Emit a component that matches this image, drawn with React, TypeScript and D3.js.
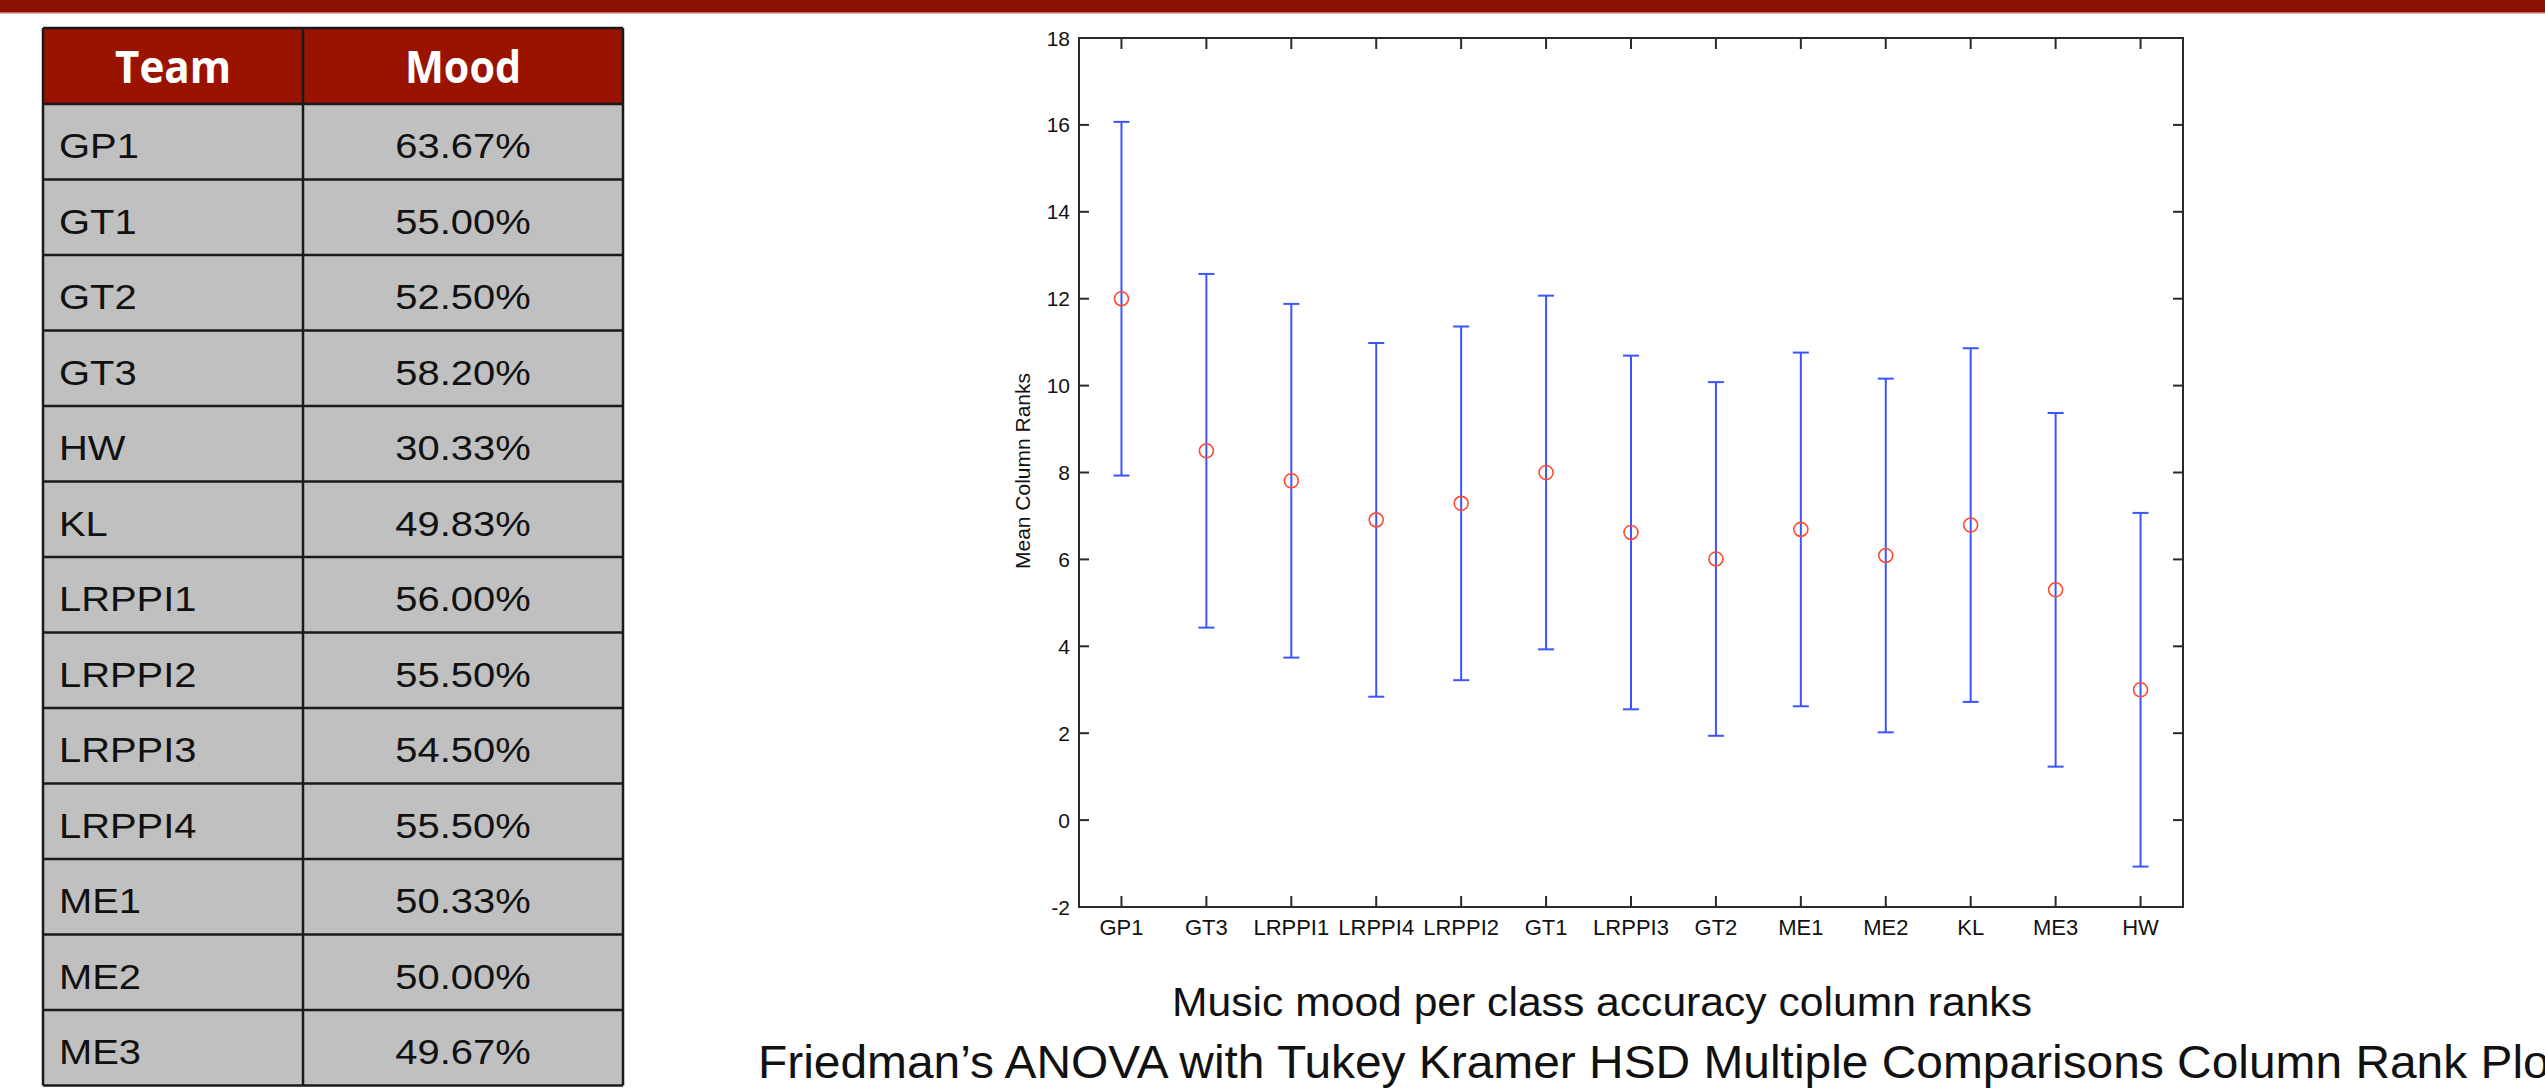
import React from 'react';
import * as d3 from 'd3';

// table values
const teams = ['GP1', 'GT1', 'GT2', 'GT3', 'HW', 'KL', 'LRPPI1', 'LRPPI2', 'LRPPI3', 'LRPPI4', 'ME1', 'ME2', 'ME3'];
const moods = ['63.67%', '55.00%', '52.50%', '58.20%', '30.33%', '49.83%', '56.00%', '55.50%', '54.50%', '55.50%', '50.33%', '50.00%', '49.67%'];

// multiple comparison plot values (sorted as in the figure)
const groups = ['GP1', 'GT3', 'LRPPI1', 'LRPPI4', 'LRPPI2', 'GT1', 'LRPPI3', 'GT2', 'ME1', 'ME2', 'KL', 'ME3', 'HW'];
const meanRanks = [12.0, 8.5, 7.81, 6.91, 7.29, 8.0, 6.62, 6.01, 6.69, 6.09, 6.79, 5.3, 3.0];
const halfWidth = 4.07;
const yTicks = [-2, 0, 2, 4, 6, 8, 10, 12, 14, 16, 18];

const W = 2545, H = 1088;
const plot = { left: 1079, right: 2183, top: 38, bottom: 907 };
const tbl = { left: 43, mid: 303, right: 623, top: 28, headH: 76, rowH: 75.5 };

const sans = '"Liberation Sans", Arial, Helvetica, sans-serif';
const axisColor = '#2a2a2a';
const barColor = '#3a55ff';
const dotColor = '#ff4a30';

export default function App() {
  const x = d3.scaleLinear().domain([0.5, groups.length + 0.5]).range([plot.left, plot.right]);
  const y = d3.scaleLinear().domain([-2, 18]).range([plot.bottom, plot.top]);
  const tickLen = 10;
  const cap = 8;
  const stretch = 1.14; // slide text is a bit wider than Arial

  const rowY = (i: number) => tbl.top + tbl.headH + i * tbl.rowH;

  return (
    <svg width={W} height={H} style={{ position: 'absolute', left: 0, top: 0, background: '#fff' }}>
      {/* top banner */}
      <rect x={0} y={0} width={W} height={12} fill="#8b1200" />
      <rect x={0} y={12} width={W} height={1.5} fill="#c26a5c" />

      {/* table */}
      <g>
        <rect x={tbl.left} y={tbl.top} width={tbl.right - tbl.left} height={tbl.headH} fill="#991300" />
        {teams.map((t, i) => (
          <rect key={t} x={tbl.left} y={rowY(i)} width={tbl.right - tbl.left} height={tbl.rowH} fill="#bfc0bf" />
        ))}
        {d3.range(teams.length + 2).map(i => {
          const yy = i === 0 ? tbl.top : rowY(i - 1);
          return <line key={i} x1={tbl.left} x2={tbl.right} y1={yy} y2={yy} stroke="#1a1a1a" strokeWidth={2.5} />;
        })}
        {[tbl.left, tbl.mid, tbl.right].map(xx => (
          <line key={xx} x1={xx} x2={xx} y1={tbl.top} y2={rowY(teams.length)} stroke="#1a1a1a" strokeWidth={2.5} />
        ))}
        <text x={(tbl.left + tbl.mid) / 2} y={tbl.top + 55} textAnchor="middle" fill="#fff"
          fontFamily='"Open Sans", "DejaVu Sans", sans-serif' fontWeight="bold" fontSize={45}
          textLength={116} lengthAdjust="spacingAndGlyphs">Team</text>
        <text x={(tbl.mid + tbl.right) / 2} y={tbl.top + 55} textAnchor="middle" fill="#fff"
          fontFamily='"Open Sans", "DejaVu Sans", sans-serif' fontWeight="bold" fontSize={45}
          textLength={116} lengthAdjust="spacingAndGlyphs">Mood</text>
        {teams.map((t, i) => (
          <g key={t}>
            <g transform={`translate(${tbl.left + 16},${rowY(i) + 54}) scale(${stretch},1)`}>
              <text fontFamily={sans} fontSize={35} fill="#111">{t}</text>
            </g>
            <g transform={`translate(${(tbl.mid + tbl.right) / 2},${rowY(i) + 54}) scale(${stretch},1)`}>
              <text textAnchor="middle" fontFamily={sans} fontSize={35} fill="#111">{moods[i]}</text>
            </g>
          </g>
        ))}
      </g>

      {/* plot box */}
      <rect x={plot.left} y={plot.top} width={plot.right - plot.left} height={plot.bottom - plot.top}
        fill="none" stroke={axisColor} strokeWidth={2} />
      {yTicks.map(v => (
        <g key={v}>
          <line x1={plot.left} x2={plot.left + tickLen} y1={y(v)} y2={y(v)} stroke={axisColor} strokeWidth={2} />
          <line x1={plot.right} x2={plot.right - tickLen} y1={y(v)} y2={y(v)} stroke={axisColor} strokeWidth={2} />
          <text x={plot.left - 9} y={y(v)} dy="0.36em" textAnchor="end" fontFamily={sans} fontSize={21} fill="#111">{v}</text>
        </g>
      ))}
      {groups.map((g, i) => (
        <g key={g}>
          <line x1={x(i + 1)} x2={x(i + 1)} y1={plot.bottom} y2={plot.bottom - tickLen - 1} stroke={axisColor} strokeWidth={2} />
          <line x1={x(i + 1)} x2={x(i + 1)} y1={plot.top} y2={plot.top + tickLen + 1} stroke={axisColor} strokeWidth={2} />
          <text x={x(i + 1)} y={935} textAnchor="middle" fontFamily={sans} fontSize={22} fill="#111">{g}</text>
        </g>
      ))}
      <text transform="translate(1030,471) rotate(-90)" textAnchor="middle" fontFamily={sans} fontSize={21} fill="#111">
        Mean Column Ranks
      </text>

      {/* comparison intervals */}
      {meanRanks.map((m, i) => {
        const cx = x(i + 1);
        const lo = y(m - halfWidth), hi = y(m + halfWidth);
        return (
          <g key={groups[i]}>
            <line x1={cx} x2={cx} y1={hi} y2={lo} stroke={barColor} strokeWidth={2} />
            <line x1={cx - cap} x2={cx + cap} y1={hi} y2={hi} stroke={barColor} strokeWidth={2} />
            <line x1={cx - cap} x2={cx + cap} y1={lo} y2={lo} stroke={barColor} strokeWidth={2} />
            <circle cx={cx} cy={y(m)} r={7} fill="none" stroke={dotColor} strokeWidth={1.6} />
          </g>
        );
      })}

      {/* captions */}
      <text x={1172} y={1016} fontFamily={sans} fontSize={40} fill="#111" textLength={860} lengthAdjust="spacingAndGlyphs">
        Music mood per class accuracy column ranks
      </text>
      <text x={758} y={1078} fontFamily={sans} fontSize={46} fill="#111" textLength={1805} lengthAdjust="spacingAndGlyphs">
        Friedman’s ANOVA with Tukey Kramer HSD Multiple Comparisons Column Rank Plot
      </text>
    </svg>
  );
}
